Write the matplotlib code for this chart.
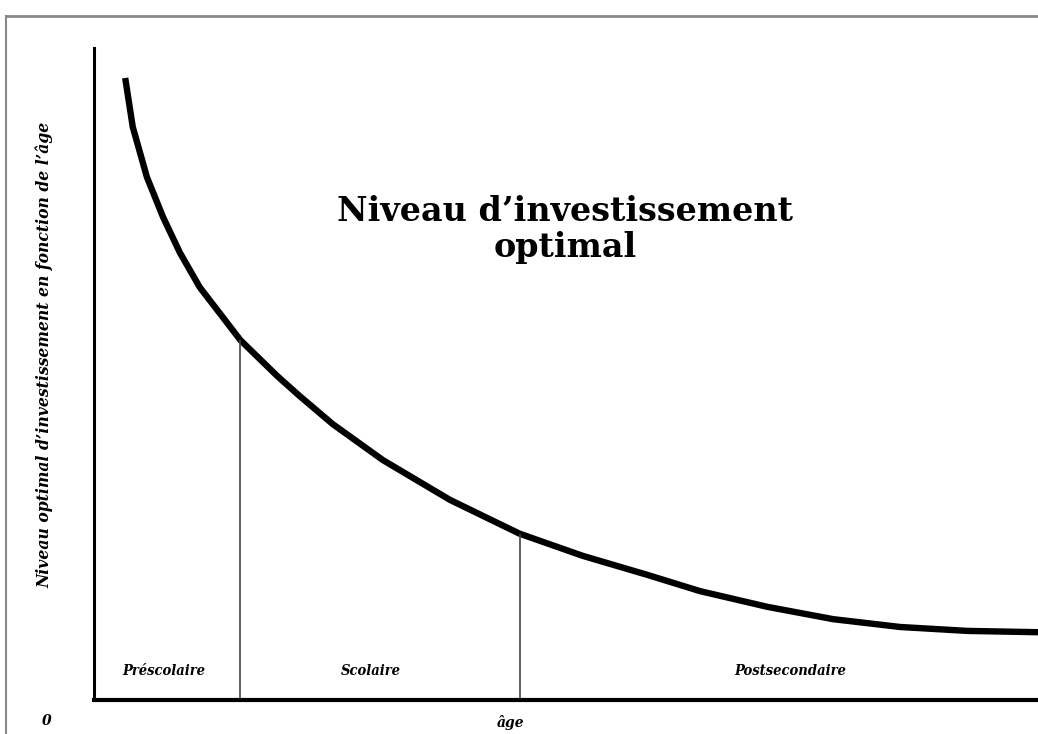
import matplotlib.pyplot as plt
from matplotlib.lines import Line2D

# curve (age in arbitrary units 0-100, level 0-100)
age = [3.3, 4.1, 5.6, 7.3, 9.1, 11.2, 13.7, 15.5, 19.4, 21.8, 25.3, 30.6,
       37.7, 45.1, 51.8, 58.6, 64.2, 71.3, 78.3, 85.4, 92.5, 100]
level = [95.4, 87.9, 80.2, 74.1, 68.6, 63.3, 58.6, 55.2, 49.7, 46.6, 42.3, 36.8,
         30.7, 25.5, 22.1, 19.2, 16.7, 14.3, 12.4, 11.2, 10.6, 10.4]

# stage boundaries and where they meet the curve
bounds = [15.5, 45.1]
bound_levels = [55.2, 25.5]
stages = ['Préscolaire', 'Scolaire', 'Postsecondaire']
stage_pos = [7.4, 29.3, 73.8]

fig = plt.figure(figsize=(10.38, 7.34), dpi=100)
ax = fig.add_axes([0.0906, 0.0463, 0.9094, 0.8883])

ax.plot(age, level, color='black', linewidth=4.6, solid_capstyle='butt',
        solid_joinstyle='round')
ax.vlines(bounds, 0, bound_levels, color='#444444', linewidth=1.2)

for s, x in zip(stages, stage_pos):
    ax.text(x, 4.5, s, ha='center', va='center', fontsize=10.5,
            family='DejaVu Serif', fontstyle='italic', fontweight='bold',
            fontstretch='condensed')

ax.text(49.9, 72.2, 'Niveau d\u2019investissement\noptimal', ha='center', va='center',
        fontsize=24, family='DejaVu Serif', fontweight='heavy', linespacing=1.1)

ax.set_xlim(0, 100)
ax.set_ylim(0, 100)
ax.set_xticks([])
ax.set_yticks([])
for side in ['top', 'right']:
    ax.spines[side].set_visible(False)
ax.spines['left'].set_linewidth(2.2)
ax.spines['bottom'].set_linewidth(3)

fig.text(0.043, 0.516, 'Niveau optimal d\u2019investissement en fonction de l\u2019âge',
         rotation=90, ha='center', va='center', fontsize=12.5,
         family='DejaVu Serif', fontstyle='italic', fontweight='bold',
         fontstretch='condensed')
fig.text(0.045, 0.018, '0', ha='center', va='center', fontsize=10,
         family='DejaVu Serif', fontstyle='italic', fontweight='bold')
fig.text(0.492, 0.016, 'âge', ha='center', va='center', fontsize=10,
         family='DejaVu Serif', fontstyle='italic', fontweight='bold')

# frame around the picture (top and left edges visible)
fig.add_artist(Line2D([0.0058, 1.0], [0.978, 0.978], transform=fig.transFigure,
                      color='#888888', linewidth=2))
fig.add_artist(Line2D([0.0058, 0.0058], [0.0, 0.978], transform=fig.transFigure,
                      color='#888888', linewidth=1.5))

fig.savefig('out.png', dpi=100)
